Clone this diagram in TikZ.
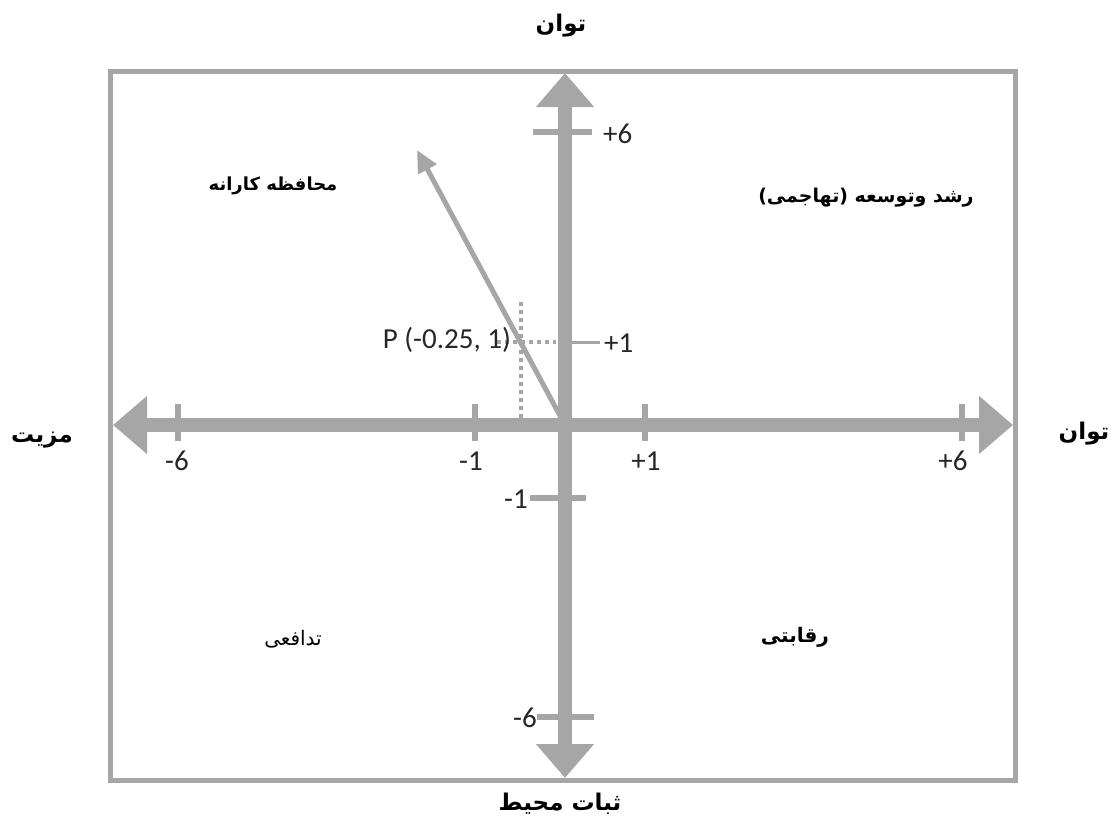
\documentclass[tikz,border=0pt]{standalone}
\usepackage{fontspec}
\setmainfont{Carlito}
\newfontfamily\arabicfont[Script=Arabic]{DejaVu Sans}
\TeXXeTstate=1
\usetikzlibrary{arrows.meta}
\definecolor{axisgray}{RGB}{166,166,166}

\begin{document}
\begin{tikzpicture}[x=1pt, y=-1pt,
    axis/.style={axisgray, line width=14pt, {Triangle[width=56pt,length=34pt]}-{Triangle[width=56pt,length=34pt]}},
    tick/.style={axisgray, line width=6pt},
    num/.style={font=\fontsize{29}{34}\selectfont, text=black!85, inner sep=0pt},
    fa/.style={font=\arabicfont\bfseries\fontsize{23}{27}\selectfont, inner sep=0pt},
    guide/.style={axisgray, line width=3.5pt, dash pattern=on 4pt off 4pt}
]
\useasboundingbox (0,0) rectangle (1112,825);

% frame
\draw[axisgray, line width=5pt] (110,71) rectangle (1015,780);

% axis ends
\coordinate (O) at (565,425);
\coordinate (left) at (113,425);
\coordinate (right) at (1013,425);
\coordinate (top) at (565,73);
\coordinate (bottom) at (565,778);

\draw[axis] (left) -- (right);
\draw[axis] (bottom) -- (top);

% ticks on x axis
\foreach \x in {178,475,645,962}
  \draw[tick] (\x,404) -- (\x,441);

% ticks on y axis
\draw[tick] (533,132) -- (592,132);
\draw[axisgray, line width=3pt] (565,342) -- (600,342);
\draw[tick] (530,498) -- (586,498);
\draw[tick] (537,717) -- (594,717);

% tick labels
\node[num] (xm6) at (177,461) {-6};
\node[num] (xm1) at (471,461) {-1};
\node[num] (xp1) at (646,461) {+1};
\node[num] (xp6) at (953,461) {+6};
\node[num, anchor=west] (yp6) at (603,134) {+6};
\node[num, anchor=west] (yp1) at (604,343) {+1};
\node[num, anchor=east] (ym1) at (528,499) {-1};
\node[num, anchor=east] (ym6) at (537,718) {-6};

% point P
\coordinate (P) at (521,342);
\coordinate (Px) at (521,420);
\coordinate (Py) at (556,342);
\draw[guide] (521,302) -- (Px);
\draw[guide] (497,342) -- (Py);
\node[num, anchor=east] (plabel) at (511,340) {P (-0.25, 1)};

% strategy vector
\coordinate (V) at (417,150);
\draw[axisgray, line width=5pt, -{Triangle[width=20pt,length=22pt]}] (O) -- (V);

% axis titles
\node[fa] (ttop) at (561,26) {\beginR توان\endR};
\node[fa] (tright) at (1084,434) {\beginR توان\endR};
\node[fa] (tleft) at (42,440) {\beginR مزیت\endR};
\node[fa] (tbottom) at (560,804) {\beginR ثبات محیط\endR};

% quadrants
\node[fa, font=\arabicfont\bfseries\fontsize{18}{22}\selectfont] (q2) at (273,186) {\beginR محافظه کارانه\endR};
\node[fa, font=\arabicfont\bfseries\fontsize{19}{23}\selectfont] (q1) at (866,198) {\beginR رشد وتوسعه (تهاجمی)\endR};
\node[fa, font=\arabicfont\fontsize{20}{24}\selectfont] (q3) at (293,639) {\beginR تدافعی\endR};
\node[fa, font=\arabicfont\bfseries\fontsize{20}{24}\selectfont] (q4) at (795,637) {\beginR رقابتی\endR};
\end{tikzpicture}
\end{document}
